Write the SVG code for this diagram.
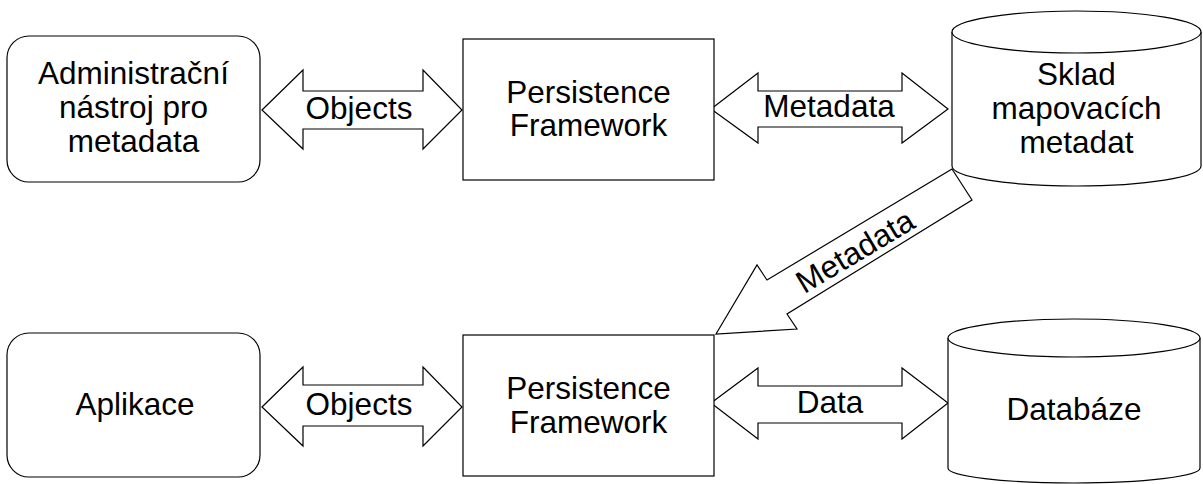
<svg xmlns="http://www.w3.org/2000/svg" width="1203" height="484" viewBox="0 0 1203 484">
<style>
.s{fill:#fff;stroke:#000;stroke-width:1.2}
.t{font-family:"Liberation Sans",Arial,sans-serif;font-size:31.5px;fill:#000;text-anchor:middle}
</style>
<rect width="1203" height="484" fill="#fff"/>
<g id="connectors">
<polygon class="s" points="262,110 303,70 303,91 423,91 423,70 462,110 423,149 423,129 303,129 303,149"/>
<text class="t" x="359" y="119">Objects</text>
<polygon class="s" points="711,109 758,73 758,91 902,91 902,73 948,109 902,143 902,127 758,127 758,143"/>
<text class="t" x="829" y="117">Metadata</text>
<polygon class="s" points="262,407 303,367 303,385 423,385 423,367 462,407 423,446 423,426 303,426 303,446"/>
<text class="t" x="359" y="415">Objects</text>
<polygon class="s" points="711,403 758,368 758,386 902,386 902,368 948,403 902,439 902,423 758,423 758,439"/>
<text class="t" x="830" y="413">Data</text>
<polygon class="s" points="952,169 767,280 757,265 716,334 797,329 787,314 972,200"/>
<text class="t" transform="translate(855,251) rotate(-31)" x="0" y="11">Metadata</text>
</g>
<g id="admin">
<rect class="s" x="7" y="36" width="253" height="146" rx="22"/>
<text class="t" x="133.5" y="84">Administrační</text>
<text class="t" x="133.5" y="118">nástroj pro</text>
<text class="t" x="133.5" y="152">metadata</text>
</g>
<g id="pf1">
<rect class="s" x="463" y="39" width="251" height="141"/>
<text class="t" x="588.5" y="103">Persistence</text>
<text class="t" x="588.5" y="136">Framework</text>
</g>
<g id="sklad">
<path class="s" d="M952,32 L952,166 A124.5,20 0 0 0 1201,166 L1201,32"/>
<ellipse class="s" cx="1076.5" cy="32" rx="124.5" ry="21"/>
<text class="t" x="1076.5" y="85">Sklad</text>
<text class="t" x="1076.5" y="119">mapovacích</text>
<text class="t" x="1076.5" y="153">metadat</text>
</g>
<g id="aplikace">
<rect class="s" x="7" y="333" width="253" height="144" rx="22"/>
<text class="t" x="135" y="415">Aplikace</text>
</g>
<g id="pf2">
<rect class="s" x="463" y="335" width="251" height="141"/>
<text class="t" x="588.5" y="399">Persistence</text>
<text class="t" x="588.5" y="433">Framework</text>
</g>
<g id="databaze">
<path class="s" d="M948,338 L948,468 A126,15 0 0 0 1200,468 L1200,338"/>
<ellipse class="s" cx="1074" cy="338" rx="126" ry="19"/>
<text class="t" x="1074" y="420">Databáze</text>
</g>
</svg>
